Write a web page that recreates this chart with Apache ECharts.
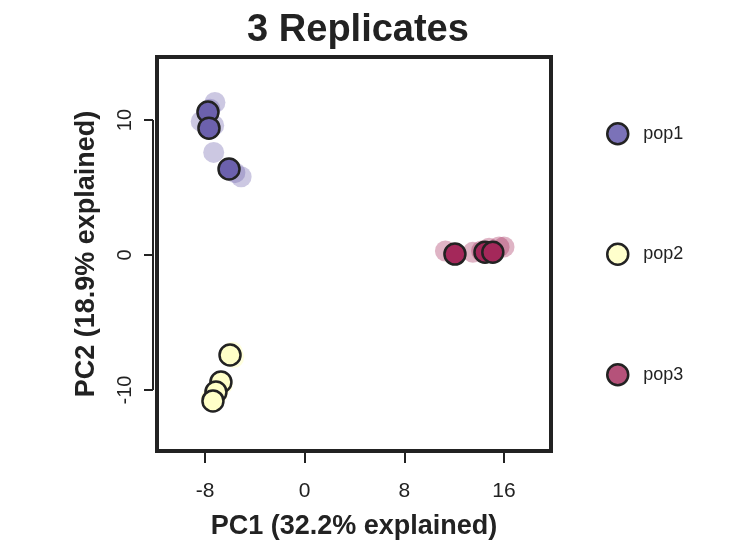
<!DOCTYPE html>
<html>
<head>
<meta charset="utf-8">
<script src="https://cdn.jsdelivr.net/npm/echarts@6/dist/echarts.min.js"></script>
<style>html,body{margin:0;padding:0;background:#fff}#c{width:732px;height:552px}</style>
</head>
<body>
<div id="c"></div>
<script>
// ---- data ----
const titleText = '3 Replicates';
const xName = 'PC1 (32.2% explained)';
const yName = 'PC2 (18.9% explained)';
const xTicks = [-8, 0, 8, 16];
const yTicks = [-10, 0, 10];
const popNames = ['pop1', 'pop2', 'pop3'];

const pop1Mean = [[-7.76, 10.6], [-7.68, 9.4], [-6.07, 6.37]];
const pop2Mean = [[-5.99, -7.41], [-6.72, -9.41], [-7.12, -10.15], [-7.36, -10.81]];
const pop3Mean = [[12.06, 0.07], [14.47, 0.2], [15.1, 0.2]];

const pop1Rep = [[-7.2, 11.3], [-8.3, 9.9], [-7.3, 9.6], [-7.6, 10.8], [-7.3, 7.6], [-5.1, 5.8], [-5.6, 6.1]];
const pop2Rep = [[-5.8, -7.2], [-5.7, -7.6], [-6.6, -9.6], [-7.0, -10.3], [-7.5, -10.6]];
const pop3Rep = [[11.3, 0.3], [12.0, 0.1], [13.5, 0.2], [14.2, 0.3], [14.8, 0.5], [15.6, 0.6], [16.0, 0.6]];

const plotColors = ['#6c61ad', '#ffffc8', '#a4285a'];
const legendColors = ['#7b72b8', '#ffffcc', '#b5527a'];

const FONT = 'Liberation Sans';
const chart = echarts.init(document.getElementById('c'), null, {renderer: 'canvas'});

const means = [pop1Mean, pop2Mean, pop3Mean];
const reps = [pop1Rep, pop2Rep, pop3Rep];
const series = [];
reps.forEach((d, i) => series.push({
  name: popNames[i] + ' rep', type: 'scatter', data: d, symbolSize: 21,
  itemStyle: {color: plotColors[i], opacity: i === 1 ? 0.6 : 0.35, borderWidth: 0},
  emphasis: {disabled: true}, silent: true, z: 2
}));
means.forEach((d, i) => series.push({
  name: popNames[i], type: 'scatter', data: d, symbolSize: 21,
  itemStyle: {color: plotColors[i], opacity: 1, borderColor: '#222', borderWidth: 2.5},
  emphasis: {disabled: true}, silent: true, z: 3
}));

const option = {
  animation: false,
  backgroundColor: '#fff',
  title: {
    text: titleText, left: 353, top: 7, textAlign: 'center',
    textStyle: {fontFamily: FONT, fontSize: 38, fontWeight: 'bold', color: '#222'}
  },
  grid: {left: 157, right: 181, top: 57, bottom: 101, show: true,
         borderColor: '#222', borderWidth: 4, backgroundColor: 'transparent'},
  legend: {
    orient: 'vertical', left: 601, top: 117, itemGap: 97,
    itemWidth: 21, itemHeight: 21, icon: 'circle',
    textStyle: {fontFamily: FONT, fontSize: 18, color: '#222', padding: [0, 0, 0, 10]},
    data: popNames.map((n, i) => ({name: n, itemStyle: {color: legendColors[i], borderColor: '#222', borderWidth: 2.5}})),
    selectedMode: false
  },
  xAxis: {
    type: 'value', min: -11.85, max: 19.77,
    name: xName, nameLocation: 'middle', nameGap: 62,
    nameTextStyle: {fontFamily: FONT, fontSize: 27, fontWeight: 'bold', color: '#222'},
    axisLine: {show: false, onZero: false},
    splitLine: {show: false},
    axisTick: {show: true, length: 12, lineStyle: {color: '#222', width: 2}, customValues: xTicks},
    axisLabel: {fontFamily: FONT, fontSize: 21, color: '#222', margin: 30, customValues: xTicks}
  },
  yAxis: {
    type: 'value', min: -14.52, max: 14.67, offset: 4,
    name: yName, nameLocation: 'middle', nameGap: 53, nameRotate: 90,
    nameTextStyle: {fontFamily: FONT, fontSize: 27, fontWeight: 'bold', color: '#222'},
    axisLine: {show: false, onZero: false},
    splitLine: {show: false},
    axisTick: {show: true, length: 9, lineStyle: {color: '#222', width: 2}, customValues: yTicks},
    axisLabel: {fontFamily: FONT, fontSize: 20, color: '#222', margin: 18, rotate: 90, customValues: yTicks,
                verticalAlign: 'bottom', align: 'center'}
  },
  series: series
};
chart.setOption(option);

// y axis line spanning the tick range only (base-graphics style)
const yTop = chart.convertToPixel({yAxisIndex: 0}, yTicks[yTicks.length - 1]);
const yBot = chart.convertToPixel({yAxisIndex: 0}, yTicks[0]);
const gridLeft = option.grid.left - option.yAxis.offset;
chart.setOption({graphic: [{type: 'line', shape: {x1: gridLeft, y1: yTop, x2: gridLeft, y2: yBot},
  style: {stroke: '#222', lineWidth: 2}, z: 5}]});
</script>
</body>
</html>
